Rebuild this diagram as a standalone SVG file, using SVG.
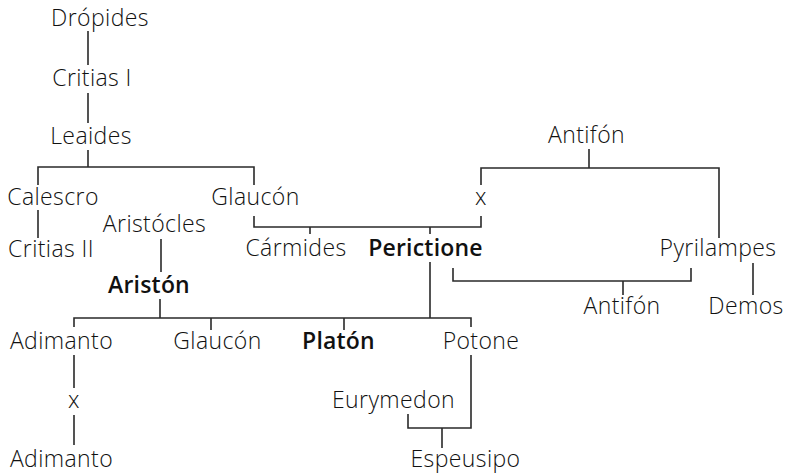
<svg xmlns="http://www.w3.org/2000/svg" width="786" height="475" viewBox="0 0 786 475">
<style>
text{font-family:"Open Sans","Noto Sans","DejaVu Sans",sans-serif;font-size:23px;font-weight:300;letter-spacing:0.4px;fill:#111}
.b{font-weight:600;letter-spacing:0.2px}
.c{text-anchor:middle}
#connectors path{fill:none;stroke:#2a2a2a;stroke-width:1.6}
</style>
<rect width="786" height="475" fill="#fff"/>
<g id="connectors">
<path d="M88 31V65M88 93V123M88 150V167"/>
<path d="M38 185V167H254V185"/>
<path d="M38 210V238"/>
<path d="M254 216V227H481V216M481 185V168H719V238M589 149V168"/>
<path d="M310 227V234M430 227V234"/>
<path d="M161 239V272"/>
<path d="M453 268V281H691V268M623 281V295M753 263V295"/>
<path d="M160 299V318M74 327V318H471V327M430 262V318M211 318V330M344 318V330"/>
<path d="M74 355V388M74 415V445"/>
<path d="M471 355V428H408V414M442 428V448"/>
</g>
<g id="dropides"><text x="100" y="26" class="c">Drópides</text></g>
<g id="critias1"><text x="92" y="86" class="c">Critias I</text></g>
<g id="leaides"><text x="91" y="144" class="c">Leaides</text></g>
<g id="calescro"><text x="53" y="205" class="c">Calescro</text></g>
<g id="glaucon1"><text x="255.5" y="205" class="c">Glaucón</text></g>
<g id="x1"><text x="481" y="205" class="c">x</text></g>
<g id="antifon1"><text x="586.5" y="143" class="c">Antifón</text></g>
<g id="critias2"><text x="51" y="257" class="c">Critias II</text></g>
<g id="aristocles"><text x="154.5" y="232" class="c">Aristócles</text></g>
<g id="carmides"><text x="296" y="256" class="c">Cármides</text></g>
<g id="perictione"><text x="425.5" y="256" class="c b">Perictione</text></g>
<g id="pyrilampes"><text x="718" y="256" class="c">Pyrilampes</text></g>
<g id="ariston"><text x="149" y="293" class="c b">Aristón</text></g>
<g id="antifon2"><text x="622" y="314" class="c">Antifón</text></g>
<g id="demos"><text x="746" y="314" class="c">Demos</text></g>
<g id="adimanto1"><text x="61.5" y="349" class="c">Adimanto</text></g>
<g id="glaucon2"><text x="217.5" y="349" class="c">Glaucón</text></g>
<g id="platon"><text x="338.5" y="349" class="c b">Platón</text></g>
<g id="potone"><text x="481" y="349" class="c">Potone</text></g>
<g id="x2"><text x="74" y="408" class="c">x</text></g>
<g id="eurymedon"><text x="393.5" y="408" class="c">Eurymedon</text></g>
<g id="adimanto2"><text x="61.5" y="467" class="c">Adimanto</text></g>
<g id="espeusipo"><text x="465.5" y="467" class="c">Espeusipo</text></g>
</svg>
